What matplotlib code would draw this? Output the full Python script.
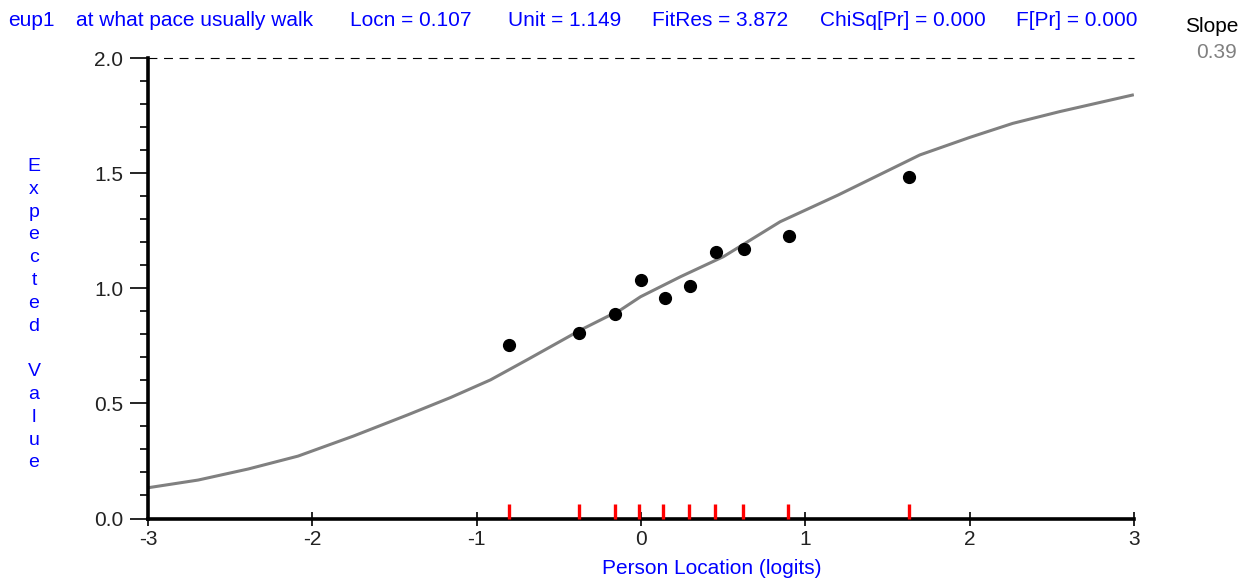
import numpy as np
import matplotlib.pyplot as plt
from matplotlib.ticker import MultipleLocator

plt.rcParams['font.family'] = ['Liberation Sans', 'DejaVu Sans']
plt.rcParams['axes.unicode_minus'] = False

BLUE = '#0000ff'

# observed class means (person location, expected value)
obs_x = [-0.804, -0.378, -0.161, -0.001, 0.145, 0.296, 0.454, 0.627, 0.901, 1.632]
obs_y = [0.754, 0.807, 0.887, 1.036, 0.956, 1.010, 1.157, 1.172, 1.227, 1.482]

# red markers on the x axis (class interval locations)
class_x = [-0.803, -0.378, -0.159, -0.013, 0.132, 0.290, 0.448, 0.618, 0.897, 1.630]

# expected value curve
curve_x = [-2.996, -2.695, -2.390, -2.087, -1.750, -1.420, -1.160, -0.916, -0.691,
           -0.367, -0.124, -0.003, 0.240, 0.501, 0.847, 1.200, 1.697, 2.000,
           2.262, 2.547, 2.990]
curve_y = [0.134, 0.167, 0.215, 0.271, 0.358, 0.450, 0.525, 0.602, 0.690,
           0.819, 0.906, 0.963, 1.050, 1.137, 1.289, 1.405, 1.579, 1.655,
           1.716, 1.767, 1.839]

header = [('eup1', 8), ('at what pace usually walk', 76), ('Locn = 0.107', 350),
          ('Unit = 1.149', 508), ('FitRes = 3.872', 652), ('ChiSq[Pr] = 0.000', 820),
          ('F[Pr] = 0.000', 1016)]
slope_value = '0.39'
ylabel_text = 'Expected Value'

W, H = 1254, 583
fig = plt.figure(figsize=(W / 100, H / 100), dpi=100)
ax = fig.add_axes([148 / W, 1 - 518.5 / H, (1134 - 148) / W, (518.5 - 58) / H])

ax.plot(curve_x, curve_y, color='#808080', lw=2.2, zorder=2)
ax.plot(obs_x, obs_y, 'o', color='black', ms=8.5, zorder=3)
ax.vlines(class_x, 0, 0.065, color='red', lw=2.4, zorder=4, clip_on=False)
ax.plot([-3, 3], [2, 2], color='black', lw=0.8, dashes=(8, 6), zorder=1, clip_on=False)

ax.set_xlim(-3, 3)
ax.set_ylim(0, 2)
ax.set_xticks(range(-3, 4))
ax.set_yticks([0, 0.5, 1.0, 1.5, 2.0])
ax.set_yticklabels(['0.0', '0.5', '1.0', '1.5', '2.0'])
ax.yaxis.set_minor_locator(MultipleLocator(0.1))

for s in ['top', 'right']:
    ax.spines[s].set_visible(False)
for s in ['left', 'bottom']:
    ax.spines[s].set_linewidth(2.6)

ax.tick_params(axis='y', which='major', length=13, width=1.2, pad=5, labelsize=15,
               labelcolor='#222222')
ax.tick_params(axis='y', which='minor', length=6, width=1.2)
ax.tick_params(axis='x', which='major', direction='inout', length=10, width=1.2,
               pad=3, labelsize=15, labelcolor='#222222')

# header line
for txt, px in header:
    fig.text(px / W, 1 - 21 / H, txt, color=BLUE, fontsize=15, ha='left', va='center')
fig.text(1238 / W, 1 - 27 / H, 'Slope', color='black', fontsize=15, ha='right', va='center')
fig.text(1237 / W, 1 - 53 / H, slope_value, color='#808080', fontsize=15, ha='right', va='center')

# stacked y label
for i, ch in enumerate(ylabel_text):
    fig.text(34 / W, 1 - (171 + 22.8 * i) / H, ch, color=BLUE, fontsize=14,
             ha='center', va='baseline')

fig.text(711.7 / W, 1 - 568 / H, 'Person Location (logits)', color=BLUE, fontsize=15,
         ha='center', va='center')

fig.savefig('out.png', dpi=100)
